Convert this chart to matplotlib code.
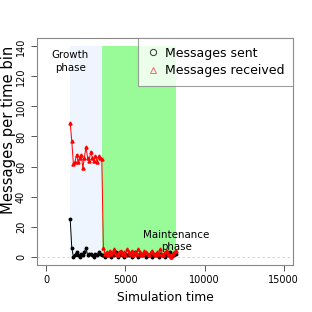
import matplotlib
matplotlib.use("Agg")
import matplotlib.pyplot as plt
from matplotlib.lines import Line2D

# ---- data ----
growth_start, growth_end, maint_end = 1500, 3500, 8200
time_bins = list(range(1500, 8300, 100))  # 68 bins

received = [89, 77, 62, 63, 68, 63, 66, 68, 59, 66, 73, 66, 64, 70, 66, 64, 67, 63, 67, 66, 65,
            6, 2, 3, 1, 4, 2, 3, 5, 2, 1, 3, 4, 2, 3, 1, 5, 3, 2, 4, 1, 3, 2, 5, 3, 1, 2,
            4, 3, 2, 1, 3, 4, 2, 1, 3, 2, 5, 2, 1, 3, 4, 2, 1, 0, 2, 3, 4]
sent = [25, 6, 0, 1, 3, 1, 0, 2, 1, 3, 6, 1, 2, 2, 1, 0, 2, 1, 3, 2, 1,
        1, 0, 2, 1, 1, 0, 2, 1, 3, 0, 1, 2, 1, 0, 2, 1, 1, 2, 0, 1, 3, 1, 0, 2, 1, 1,
        2, 0, 1, 1, 2, 0, 1, 2, 1, 0, 2, 1, 1, 0, 2, 1, 3, 0, 1, 1, 2]

x_ticks = [0, 5000, 10000, 15000]
y_ticks = [0, 20, 40, 60, 80, 100, 120, 140]

fig = plt.figure(figsize=(3.12, 3.12), dpi=100)
ax = fig.add_axes([0.1186, 0.1506, 0.8205, 0.7276])
ax.set_xlim(-600, 15600)
ax.set_ylim(-5.6, 145.6)

ax.axvspan(growth_start, growth_end, ymin=(0 + 5.6) / 151.2, ymax=(140 + 5.6) / 151.2,
           color='#EEF5FE', lw=0, zorder=0)
ax.axvspan(growth_end, maint_end, ymin=(0 + 5.6) / 151.2, ymax=(140 + 5.6) / 151.2,
           color='#98FB98', lw=0, zorder=0)
ax.axhline(0, color='#cccccc', lw=0.6, ls=(0, (3, 3)), zorder=1)

ax.plot(time_bins, sent, color='black', lw=0.7, marker='o', ms=1.8, zorder=3)
ax.plot(time_bins, received, color='red', lw=0.7, marker='^', ms=2.2, zorder=4)

ax.text(1500, 130, "Growth\nphase", ha='center', va='center', fontsize=7.4, linespacing=1.3)
ax.text(8200, 10.5, "Maintenance\nphase", ha='center', va='center', fontsize=7.4, linespacing=1.3)

handles = [Line2D([], [], ls='none', marker='o', mfc='none', mec='#333333', ms=4.5, mew=0.7),
           Line2D([], [], ls='none', marker='^', mfc='none', mec='#ff6666', ms=5, mew=0.7)]
leg = ax.legend(handles, ["Messages sent", "Messages received"], loc='upper right',
                fontsize=9.0, frameon=True, fancybox=False, borderaxespad=0,
                handlelength=0.9, handletextpad=0.5, borderpad=0.7, labelspacing=0.35)
leg.get_frame().set_edgecolor('#888888')
leg.get_frame().set_linewidth(0.8)

ax.set_xticks(x_ticks)
ax.set_yticks(y_ticks)
ax.set_yticklabels([str(v) for v in y_ticks], rotation=90, va='center')
ax.tick_params(labelsize=7.0, length=4, width=0.7, color='#555555', direction='out')
ax.tick_params(axis='y', pad=4)
for s in ax.spines.values():
    s.set_color('#888888')
    s.set_linewidth(0.8)

ax.set_xlabel("Simulation time", fontsize=8.8, labelpad=4)
ax.set_ylabel("Messages per time bin", fontsize=10.6, va='center')
ax.yaxis.set_label_coords(-29.0 / 256, 0.595)

fig.savefig("out.png", dpi=100)
